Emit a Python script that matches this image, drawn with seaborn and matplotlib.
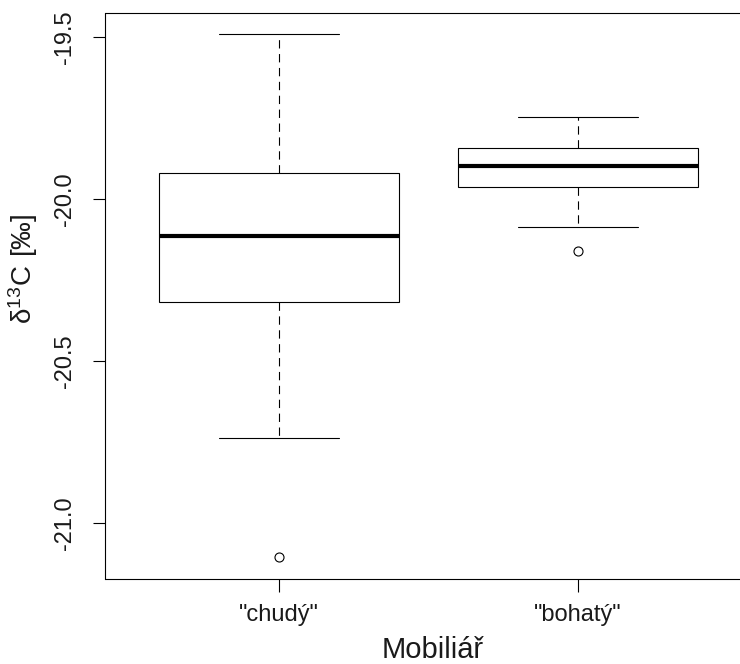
import matplotlib
matplotlib.use("Agg")
import matplotlib.pyplot as plt
import seaborn as sns
import pandas as pd

# ---- data ----
categories = ["chudý", "bohatý"]
xtick_labels = ['"chudý"', '"bohatý"']
chudy_values = [-21.105, -20.738, -20.316, -20.20, -20.113, -20.00, -19.920, -19.70, -19.49]
bohaty_values = [-20.159, -20.085, -19.963, -19.93, -19.897, -19.87, -19.843, -19.80, -19.745]
ytick_values = [-21.0, -20.5, -20.0, -19.5]
ytick_labels = ["-21.0", "-20.5", "-20.0", "-19.5"]
x_label = "Mobiliář"
y_label = r"$\mathregular{\delta^{13}C\ [‰]}$"

df = pd.DataFrame({
    "group": [categories[0]] * len(chudy_values) + [categories[1]] * len(bohaty_values),
    "value": chudy_values + bohaty_values,
})

sns.set_style("white")
plt.rcParams["font.family"] = ["Liberation Sans", "DejaVu Sans"]
plt.rcParams["mathtext.fontset"] = "custom"
plt.rcParams["mathtext.rm"] = "Liberation Sans"
plt.rcParams["axes.unicode_minus"] = False

fig = plt.figure(figsize=(7.4, 6.64), dpi=100)
W, H = 740, 664
left, right, top, bottom = 105.5, 760, 13, 579
ax = fig.add_axes([left / W, (H - bottom) / H, (right - left) / W, (bottom - top) / H])

lw = 0.8
sns.boxplot(
    data=df, x="group", y="value", order=categories, ax=ax,
    width=0.8, color="white", linecolor="black", linewidth=lw, saturation=1,
    whis=1.5,
    boxprops=dict(facecolor="white", edgecolor="black", linewidth=lw),
    whiskerprops=dict(color="black", linewidth=lw, linestyle=(0, (7.5, 5))),
    capprops=dict(color="black", linewidth=lw),
    medianprops=dict(color="black", linewidth=3.0, solid_capstyle="butt"),
    flierprops=dict(marker="o", markersize=6.5, markerfacecolor="none",
                    markeredgecolor="black", markeredgewidth=0.8),
)

ax.set_xlim(-0.58, 1.609)
ax.set_ylim(-21.172, -19.425)
ax.set_yticks(ytick_values)
ax.set_yticklabels(ytick_labels, rotation=90, va="center")
ax.set_xticks(range(len(categories)))
ax.set_xticklabels(xtick_labels)

for name, s in ax.spines.items():
    s.set_visible(name != "right")
    s.set_color("black")
    s.set_linewidth(lw)

ax.tick_params(axis="both", which="major", direction="out", length=9, width=lw,
               color="black", labelcolor="#1a1a1a", labelsize=17)
ax.tick_params(axis="y", pad=12)
ax.tick_params(axis="x", pad=9)
ax.tick_params(left=True, bottom=True)

ax.set_xlabel(x_label, fontsize=21, color="#1a1a1a", labelpad=7)
ax.set_ylabel(y_label, fontsize=20, color="#1a1a1a")
ax.yaxis.set_label_coords(-0.10, 0.548)

fig.savefig("out.png", dpi=100, facecolor="white")
